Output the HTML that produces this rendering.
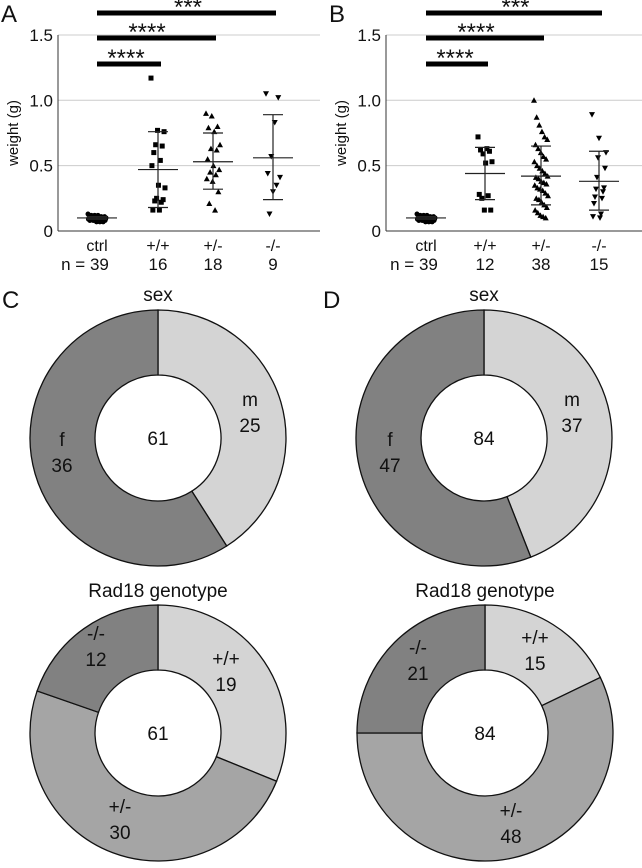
<!DOCTYPE html>
<html><head><meta charset="utf-8"><style>
body{margin:0;background:#fff;width:642px;height:863px;overflow:hidden}
svg{font-family:"Liberation Sans",sans-serif}
</style></head><body>
<svg id="s" width="642" height="863"></svg>
<script>
const cats=["ctrl","+/+","+/-","-/-"];
const nA=["n = 39","16","18","9"];
const nB=["n = 39","12","38","15"];
const ptsA_ctrl=[0.13,0.12,0.12,0.12,0.11,0.11,0.11,0.11,0.11,0.1,0.1,0.1,0.1,0.1,0.1,0.1,0.1,0.1,0.1,0.1,0.09,0.09,0.09,0.09,0.09,0.09,0.09,0.09,0.09,0.09,0.08,0.08,0.08,0.08,0.08,0.08,0.07,0.07,0.07];
const ptsA_wt=[1.17,0.77,0.76,0.66,0.65,0.60,0.54,0.50,0.35,0.33,0.25,0.24,0.23,0.22,0.16,0.16];
const ptsA_het=[0.90,0.88,0.80,0.79,0.76,0.66,0.63,0.62,0.55,0.50,0.47,0.45,0.43,0.40,0.38,0.30,0.21,0.16];
const ptsA_ko=[1.05,1.02,0.83,0.57,0.44,0.41,0.35,0.30,0.13];
const ptsB_ctrl=ptsA_ctrl.slice();
const ptsB_wt=[0.72,0.63,0.62,0.61,0.59,0.53,0.52,0.28,0.27,0.25,0.16,0.16];
const ptsB_het=[1.0,0.87,0.81,0.76,0.72,0.70,0.66,0.63,0.60,0.57,0.55,0.53,0.50,0.48,0.46,0.44,0.42,0.41,0.40,0.38,0.37,0.36,0.35,0.33,0.32,0.31,0.29,0.27,0.25,0.24,0.22,0.20,0.18,0.16,0.14,0.12,0.11,0.10];
const ptsB_ko=[0.89,0.71,0.60,0.56,0.48,0.41,0.33,0.32,0.30,0.26,0.25,0.21,0.13,0.11,0.10];
const statsA=[[0.10,0.09,0.11],[0.47,0.18,0.76],[0.53,0.32,0.75],[0.56,0.24,0.89]];
const statsB=[[0.10,0.09,0.11],[0.44,0.24,0.64],[0.42,0.20,0.65],[0.38,0.16,0.61]];
const yTicks=[0,0.5,1.0,1.5];
const yTickLabels=["0","0.5","1.0","1.5"];
const sigLabels=["****","****","***"];
const sigTargets=[1,2,3];
const sexC=[25,36], sexD=[37,47], sexLabels=["m","f"];
const genoC=[19,30,12], genoD=[15,48,21], genoLabels=["+/+","+/-","-/-"];
const NS="http://www.w3.org/2000/svg";
const svg=document.getElementById('s');
function mk(t,a,p){const e=document.createElementNS(NS,t);for(const k in a)e.setAttribute(k,a[k]);(p||svg).appendChild(e);return e;}
function txt(x,y,s,sz,anchor,p){const e=mk('text',{x:x,y:y,'font-size':sz,'text-anchor':anchor||'middle',fill:'#111'},p);e.textContent=s;return e;}
function scatter(ox,cx,pts,stats,ns,letter,nm){
  const g=mk('g',{});
  
  
  const y=v=>231-v*130.7;
  const L=txt(ox-57,22,letter,24,'start',g);
  
  
  yTicks.forEach((t,i)=>{
    if(t>0){const gl=mk('line',{x1:ox,x2:ox+262,y1:y(t),y2:y(t),stroke:'#ccc','stroke-width':1},g);
    
    }
    const tl=txt(ox-5,y(t)+6,yTickLabels[i],17,'end',g);
    
    
  });
  mk('line',{x1:ox,x2:ox,y1:y(1.5),y2:y(0),stroke:'#333'},g);
  mk('line',{x1:ox,x2:ox+262,y1:y(0),y2:y(0),stroke:'#333'},g);
  const yt=txt(0,0,'weight (g)',15,'middle',g);
  yt.setAttribute('transform',`translate(${ox-40},${y(0.75)}) rotate(-90)`);
  
  
  cats.forEach((c,i)=>{
    const a=txt(cx[i],251,c,16,'middle',g);
    
    
    const n=txt(i==0?cx[i]-12:cx[i],270,ns[i],17,'middle',g);
    
    
  });
  pts.forEach((arr,i)=>{
    const w=i==0?18:14;
    arr.forEach((v,j)=>{
      const off=arr.length>1?((j*7)%arr.length/(arr.length-1)-0.5)*w:0;
      const px=cx[i]+off, py=y(v);
      let m;
      if(i==0) m=mk('circle',{cx:px,cy:py,r:2.5,fill:'#000'},g);
      else if(i==1) m=mk('rect',{x:px-2.5,y:py-2.5,width:5,height:5,fill:'#000'},g);
      else if(i==2) m=mk('path',{d:`M${px},${py-3}L${px+3},${py+2.5}L${px-3},${py+2.5}Z`,fill:'#000'},g);
      else m=mk('path',{d:`M${px},${py+3}L${px+3},${py-2.5}L${px-3},${py-2.5}Z`,fill:'#000'},g);
      
      
    });
    const s=stats[i];
    const eb=mk('path',{d:`M${cx[i]},${y(s[1])}V${y(s[2])}M${cx[i]-10},${y(s[1])}H${cx[i]+10}M${cx[i]-10},${y(s[2])}H${cx[i]+10}M${cx[i]-20},${y(s[0])}H${cx[i]+20}`,stroke:'#222','stroke-width':1.2,fill:'none'},g);
    
    
  });
  const barY=[64,38,13];
  const starX=[cx[0]+29,cx[0]+50,(cx[0]+cx[3])/2+3];
  sigTargets.forEach((t,k)=>{
    const b=mk('rect',{x:cx[0],y:barY[k]-2.5,width:cx[t]+3-cx[0],height:5,fill:'#000'},g);
    
    
    const st=txt(starX[k],barY[k]+2,sigLabels[k],24,'middle',g);
    
    
  });
}
scatter(58,[97,158,213,273],[ptsA_ctrl,ptsA_wt,ptsA_het,ptsA_ko],statsA,nA,'A','scatter-panel-a');
scatter(386,[426,485,541,599],[ptsB_ctrl,ptsB_wt,ptsB_het,ptsB_ko],statsB,nB,'B','scatter-panel-b');

function donut(cx,cy,r,ir,vals,cols,labels,lblPos,title,ty,nm){
  const g=mk('g',{});
  
  
  const tot=vals.reduce((a,b)=>a+b,0);
  let a0=0;
  vals.forEach((v,i)=>{
    const a1=a0+v/tot*2*Math.PI;
    const P=(rr,a)=>[cx+rr*Math.sin(a),cy-rr*Math.cos(a)];
    const big=(a1-a0)>Math.PI?1:0;
    const p1=P(r,a0),p2=P(r,a1),p3=P(ir,a1),p4=P(ir,a0);
    const s=mk('path',{d:`M${p1}A${r},${r} 0 ${big} 1 ${p2}L${p3}A${ir},${ir} 0 ${big} 0 ${p4}Z`,fill:cols[i],stroke:'#111','stroke-width':1.3},g);
    
    
    const lp=lblPos[i];
    const l1=txt(lp[0],lp[1],labels[i],19,'middle',g);
    
    
    const l2=txt(lp[0],lp[1]+26,String(v),19,'middle',g);
    
    
    a0=a1;
  });
  const c=txt(cx,cy+7,String(tot),19,'middle',g);
  
  
  const t=txt(cx,ty,title,19,'middle',g);
  
  
}
const L1=txt(2,308,'C',24,'start');  
const L2=txt(323,308,'D',24,'start');  
donut(158,438,128,63,sexC,['#d4d4d4','#818181'],sexLabels,[[250,406],[62,446]],'sex',301,'donut-c-sex');
donut(484,438,128,63,sexD,['#d4d4d4','#818181'],sexLabels,[[572,406],[390,446]],'sex',301,'donut-d-sex');
donut(158,733,128,63,genoC,['#d4d4d4','#a5a5a5','#818181'],genoLabels,[[226,665],[120,813],[96,640]],'Rad18 genotype',597,'donut-c-genotype');
donut(485,733,128,63,genoD,['#d4d4d4','#a5a5a5','#818181'],genoLabels,[[535,644],[511,817],[418,654]],'Rad18 genotype',597,'donut-d-genotype');
</script>
</body></html>
